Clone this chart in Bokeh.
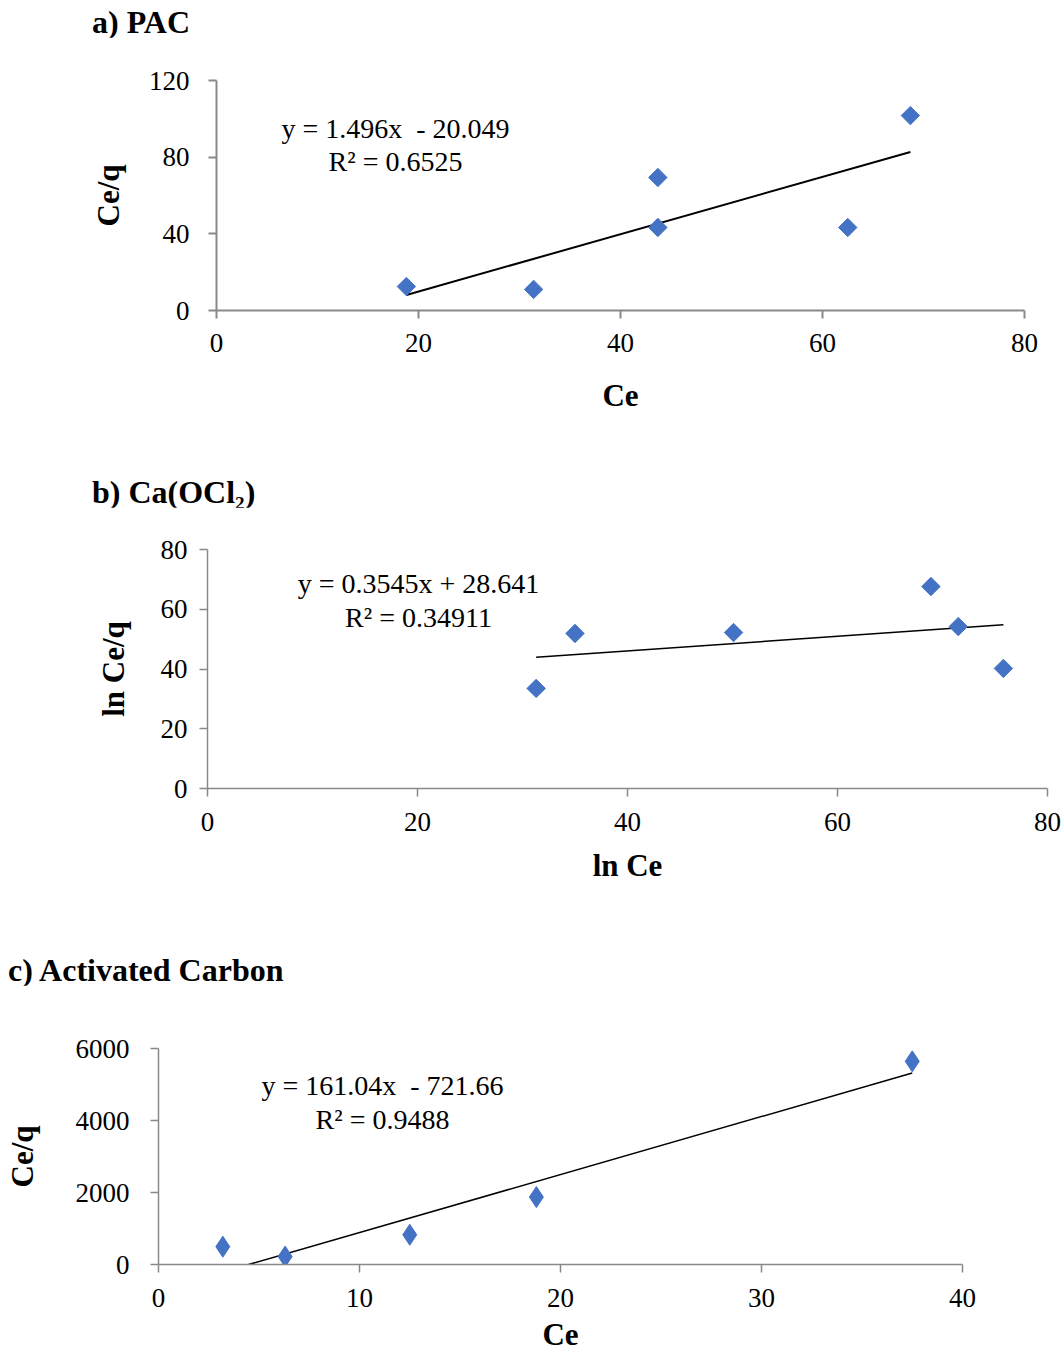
from bokeh.plotting import figure
from bokeh.models import Label, Range1d, FixedTicker, Div
from bokeh.layouts import column, row
from bokeh.embed import file_html
from bokeh.resources import INLINE

# ---------------- data ----------------
# a) PAC
a_ce = [18.8, 31.4, 43.7, 43.7, 62.5, 68.7]
a_ceq = [12.5, 11.0, 69.4, 43.3, 43.3, 101.7]
a_trend_x = [18.8, 68.7]
a_trend_y = [8.1, 82.7]
a_xticks = [0, 20, 40, 60, 80]
a_yticks = [0, 40, 80, 120]
a_eq = ["y = 1.496x\u00a0 - 20.049", "R\u00b2 = 0.6525"]

# b) Ca(OCl2)
b_lnce = [31.3, 35.0, 50.1, 68.9, 71.5, 75.8]
b_lnceq = [33.5, 51.9, 52.2, 67.6, 54.2, 40.2]
b_trend_x = [31.3, 75.8]
b_trend_y = [43.9, 54.8]
b_xticks = [0, 20, 40, 60, 80]
b_yticks = [0, 20, 40, 60, 80]
b_eq = ["y = 0.3545x + 28.641", "R\u00b2 = 0.34911"]

# c) Activated Carbon
c_ce = [3.2, 6.3, 12.5, 18.8, 37.5]
c_ceq = [495, 220, 826, 1872, 5643]
c_trend_x = [4.48, 37.5]
c_trend_y = [0, 5317]
c_xticks = [0, 10, 20, 30, 40]
c_yticks = [0, 2000, 4000, 6000]
c_eq = ["y = 161.04x\u00a0 - 721.66", "R\u00b2 = 0.9488"]

FONT = "Liberation Serif"
BLUE = "#4472C4"
AXIS = "#898989"
TOTAL_W = 1064


def title_div(text, top, left, height=30):
    return Div(text=text, width=500, height=height, margin=(top, 0, 0, left),
               styles={"font-family": FONT, "font-size": "32px",
                       "font-weight": "bold", "line-height": f"{height}px",
                       "color": "black", "white-space": "nowrap"})


def panel(fig_top, fig_h, fl, fr, ft, fb, xr, yr, xticks, yticks,
          xs, ys, tx, ty, marker, msize, lw, axw,
          xlabel, ylabel, eq, eq_pos,
          x_std, x_lab_std, y_std, y_lab_std):
    fw = fr - fl
    fh = fb - ft
    bl = fl
    bt = ft - fig_top
    br = TOTAL_W - bl - fw
    bb = fig_h - bt - fh
    p = figure(width=TOTAL_W, height=fig_h, frame_width=fw, frame_height=fh,
               x_range=Range1d(*xr), y_range=Range1d(*yr),
               output_backend="svg", toolbar_location=None,
               min_border_left=bl, min_border_right=br,
               min_border_top=bt, min_border_bottom=bb)
    p.outline_line_color = None
    p.xgrid.visible = False
    p.ygrid.visible = False
    p.background_fill_color = "white"
    p.border_fill_color = "white"

    def px2x(px):
        return xr[0] + (px - fl) / fw * (xr[1] - xr[0])

    def py2y(py):
        return yr[0] + (fb - py) / fh * (yr[1] - yr[0])

    for ax, ticks in ((p.xaxis[0], xticks), (p.yaxis[0], yticks)):
        ax.ticker = FixedTicker(ticks=ticks)
        ax.axis_line_color = AXIS
        ax.axis_line_width = axw
        ax.major_tick_line_color = AXIS
        ax.major_tick_line_width = axw
        ax.major_tick_out = 8
        ax.major_tick_in = 0
        ax.minor_tick_line_color = None
        ax.major_label_text_font = FONT
        ax.major_label_text_font_size = "27px"
        ax.major_label_text_color = "black"
        ax.axis_label_text_font = FONT
        ax.axis_label_text_font_size = "31px"
        ax.axis_label_text_font_style = "bold"
        ax.axis_label_text_color = "black"
    p.xaxis.axis_label = xlabel
    p.yaxis.axis_label = ylabel
    p.xaxis.major_label_standoff = x_std
    p.xaxis.axis_label_standoff = x_lab_std
    p.yaxis.major_label_standoff = y_std
    p.yaxis.axis_label_standoff = y_lab_std

    p.line(tx, ty, line_color="black", line_width=lw)
    if marker == "square":
        p.scatter(xs, ys, marker="square", angle=0.7854, size=msize,
                  fill_color=BLUE, line_color=BLUE)
    else:
        p.scatter(xs, ys, marker=marker, size=msize,
                  fill_color=BLUE, line_color=BLUE)

    for line_txt, (ex, ey) in zip(eq, eq_pos):
        p.add_layout(Label(x=px2x(ex), y=py2y(ey), text=line_txt,
                           text_font=FONT, text_font_size="28px",
                           text_color="black",
                           text_align="center", text_baseline="middle"))
    return p


div_a = title_div("a) PAC", 7, 92)
pa = panel(37, 440, 216, 1024, 80, 310, (0, 80), (0, 120), a_xticks, a_yticks,
           a_ce, a_ceq, a_trend_x, a_trend_y, "square", 13, 2, 2,
           "Ce", "Ce/q", a_eq, [(395, 128), (395, 161)],
           15, 23, 19, 20)

div_b = title_div("b) Ca(OCl\u2082)", 0, 92)
pb = panel(507, 448, 207, 1047, 549, 788, (0, 80), (0, 80), b_xticks, b_yticks,
           b_lnce, b_lnceq, b_trend_x, b_trend_y, "square", 13, 1.5, 1.5,
           "ln Ce", "ln Ce/q", b_eq, [(418, 583), (418, 617)],
           16, 14, 12, 27)

div_c = title_div("c) Activated Carbon", 0, 8)
pc = panel(985, 370, 158, 962, 1048, 1264, (0, 40), (0, 6000), c_xticks, c_yticks,
           c_ce, c_ceq, c_trend_x, c_trend_y, "diamond", 21, 1.5, 1.5,
           "Ce", "Ce/q", c_eq, [(382, 1085), (382, 1119)],
           16, 7, 21, 33)

layout = column(div_a, row(pa), div_b, row(pb), div_c, row(pc), spacing=0)
open("out.html", "w").write(file_html(layout, INLINE))
